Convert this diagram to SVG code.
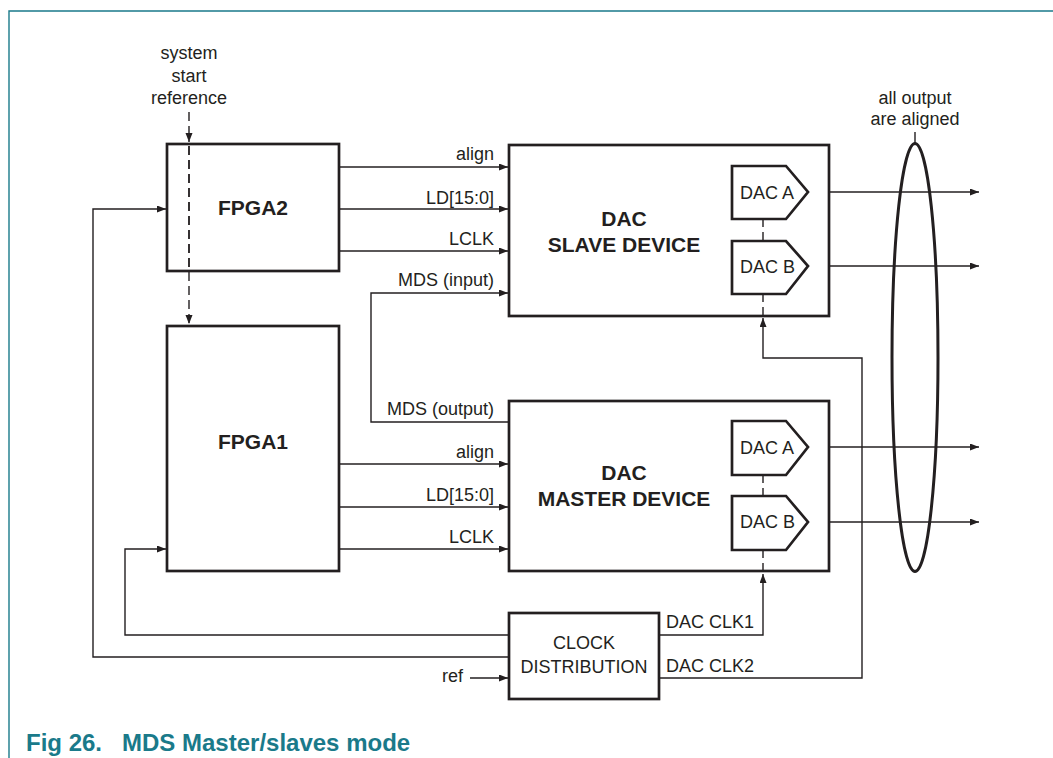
<svg xmlns="http://www.w3.org/2000/svg" width="1053" height="758" viewBox="0 0 1053 758">
<defs>
<marker id="ar" markerUnits="userSpaceOnUse" markerWidth="10" markerHeight="8" refX="9" refY="3.5" orient="auto">
<path d="M0,0 L9,3.5 L0,7 z" fill="#231f20"/>
</marker>
<style>
.box{fill:#fff;stroke:#231f20;stroke-width:2.7}
.ln{fill:none;stroke:#231f20;stroke-width:1.4}
.dash{fill:none;stroke:#231f20;stroke-width:1.4;stroke-dasharray:9 5}
.t{font-family:"Liberation Sans",Arial,sans-serif;font-size:18px;fill:#231f20}
.b{font-family:"Liberation Sans",Arial,sans-serif;font-size:21px;font-weight:bold;fill:#231f20}
.m{text-anchor:middle}
.e{text-anchor:end}
</style>
</defs>
<rect width="1053" height="758" fill="#fff"/>
<path d="M9,758 V11 H1053" fill="none" stroke="#1a7a8a" stroke-width="1.4"/>

<g id="connectors">
<path class="dash" d="M189,112 V142" marker-end="url(#ar)"/>
<path class="dash" d="M189,146 V324" marker-end="url(#ar)"/>
<path class="ln" d="M339,167 H508" marker-end="url(#ar)"/>
<path class="ln" d="M339,209 H508" marker-end="url(#ar)"/>
<path class="ln" d="M339,251 H508" marker-end="url(#ar)"/>
<path class="ln" d="M509,422 H371 V293 H508" marker-end="url(#ar)"/>
<path class="ln" d="M339,464 H508" marker-end="url(#ar)"/>
<path class="ln" d="M339,507 H508" marker-end="url(#ar)"/>
<path class="ln" d="M339,549 H508" marker-end="url(#ar)"/>
<path class="ln" d="M509,657 H93 V209 H166" marker-end="url(#ar)"/>
<path class="ln" d="M509,635 H125 V549 H166" marker-end="url(#ar)"/>
<path class="ln" d="M470,678 H508" marker-end="url(#ar)"/>
<path class="ln" d="M659,635 H763 V574" marker-end="url(#ar)"/>
<path class="ln" d="M659,678 H862 V358 H763 V318" marker-end="url(#ar)"/>
<path class="ln" d="M808,192 H979" marker-end="url(#ar)"/>
<path class="ln" d="M808,266 H979" marker-end="url(#ar)"/>
<path class="ln" d="M808,447 H979" marker-end="url(#ar)"/>
<path class="ln" d="M808,522 H979" marker-end="url(#ar)"/>
<path class="ln" d="M915,132 V143"/>
</g>

<g id="ref-labels">
<text class="t m" x="189" y="59">system</text>
<text class="t m" x="189" y="82">start</text>
<text class="t m" x="189" y="104">reference</text>
<text class="t e" x="494" y="160">align</text>
<text class="t e" x="494" y="204">LD[15:0]</text>
<text class="t e" x="494" y="245">LCLK</text>
<text class="t e" x="494" y="286">MDS (input)</text>
<text class="t e" x="494" y="415">MDS (output)</text>
<text class="t e" x="494" y="458">align</text>
<text class="t e" x="494" y="501">LD[15:0]</text>
<text class="t e" x="494" y="543">LCLK</text>
<text class="t e" x="463" y="682">ref</text>
<text class="t" x="666" y="628">DAC CLK1</text>
<text class="t" x="666" y="672">DAC CLK2</text>
<text class="t m" x="915" y="104">all output</text>
<text class="t m" x="915" y="125">are aligned</text>
</g>

<g id="fpga2">
<rect class="box" x="167" y="144" width="172" height="127" fill-opacity="0"/>
<text class="b m" x="253" y="215">FPGA2</text>
</g>
<g id="fpga1">
<rect class="box" x="167" y="326" width="172" height="245"/>
<text class="b m" x="253" y="449">FPGA1</text>
</g>
<path class="dash" d="M189,146 V270"/>

<g id="dac-slave">
<rect class="box" x="509" y="145" width="320" height="171"/>
<text class="b m" x="624" y="226">DAC</text>
<text class="b m" x="624" y="252">SLAVE DEVICE</text>
<path class="dash" d="M763,219 V241 M763,294 V316" style="stroke-dasharray:8 5"/>
<g id="slave-dac-a">
<polygon class="box" points="732,166 786,166 808,192 786,219 732,219"/>
<text class="t" x="740" y="199">DAC A</text>
</g>
<g id="slave-dac-b">
<polygon class="box" points="732,241 786,241 808,266 786,294 732,294"/>
<text class="t" x="740" y="273">DAC B</text>
</g>
</g>

<g id="dac-master">
<rect class="box" x="509" y="401" width="320" height="170"/>
<text class="b m" x="624" y="480">DAC</text>
<text class="b m" x="624" y="506">MASTER DEVICE</text>
<path class="dash" d="M763,475 V496 M763,550 V571" style="stroke-dasharray:8 5"/>
<g id="master-dac-a">
<polygon class="box" points="732,421 786,421 808,447 786,475 732,475"/>
<text class="t" x="740" y="454">DAC A</text>
</g>
<g id="master-dac-b">
<polygon class="box" points="732,496 786,496 808,522 786,550 732,550"/>
<text class="t" x="740" y="528">DAC B</text>
</g>
</g>

<g id="clock-distribution">
<rect class="box" x="509" y="613" width="150" height="86"/>
<text class="t m" x="584" y="649">CLOCK</text>
<text class="t m" x="584" y="673">DISTRIBUTION</text>
</g>

<g id="alignment-ellipse">
<ellipse cx="915" cy="357.5" rx="23" ry="214" fill="none" stroke="#231f20" stroke-width="3"/>
</g>

<text x="26" y="751" font-family="'Liberation Sans',Arial,sans-serif" font-size="24" font-weight="bold" fill="#1a7a8a" xml:space="preserve">Fig 26.   MDS Master/slaves mode</text>
</svg>
